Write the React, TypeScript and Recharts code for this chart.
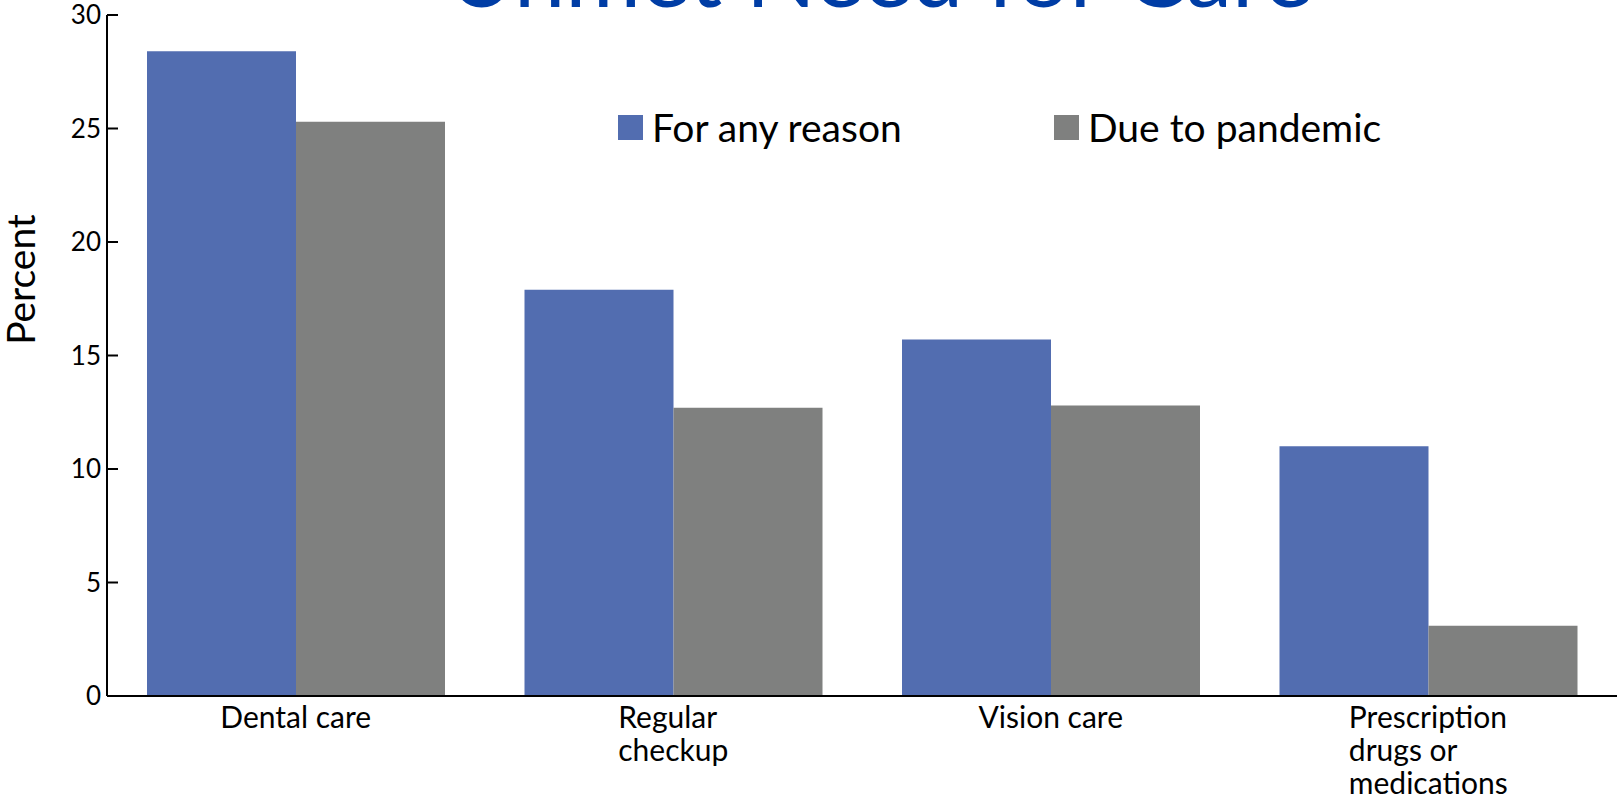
import { BarChart, Bar, XAxis, YAxis } from 'recharts';

const categories = ['Dental care', 'Regular checkup', 'Vision care', 'Prescription drugs or medications'];
const categoryLines = [['Dental care'], ['Regular', 'checkup'], ['Vision care'], ['Prescription', 'drugs or', 'medications']];
const anyReason = [28.4, 17.9, 15.7, 11.0];
const dueToPandemic = [25.3, 12.7, 12.8, 3.1];
const yTicks = [0, 5, 10, 15, 20, 25, 30];
const seriesNames = ['For any reason', 'Due to pandemic'];

const BLUE = '#526DB0';
const GRAY = '#7F807F';
const FONT = 'Lato, "Open Sans", sans-serif';

const chartData = categories.map((name, i) => ({
  name,
  anyReason: anyReason[i],
  pandemic: dueToPandemic[i],
}));

// y ticks point into the plot
const YTick = (props: any) => {
  const { x, y, payload } = props;
  const axisX = x + 6;
  return (
    <g>
      <line x1={axisX} x2={axisX + 11} y1={y} y2={y} stroke="#000" strokeWidth={2} />
      <text x={x} y={y} dy={9} textAnchor="end" fontSize={26} fontFamily={FONT} fill="#000">
        {payload.value}
      </text>
    </g>
  );
};

// multi-line category label, lines left aligned, block centred
const XTick = (props: any) => {
  const { x, y, index } = props;
  const lines = categoryLines[index] || [];
  return (
    <foreignObject x={x - 160} y={y + 4} width={320} height={110}>
      <div style={{ display: 'flex', justifyContent: 'center' }}>
        <div style={{ textAlign: 'left', fontFamily: FONT, fontSize: 30, lineHeight: '33px', color: '#000' }}>
          {lines.map((l: string) => (
            <div key={l}>{l}</div>
          ))}
        </div>
      </div>
    </foreignObject>
  );
};

export default function App() {
  return (
    <div style={{ position: 'absolute', left: 0, top: 0, width: 1619, height: 796, overflow: 'hidden', background: '#fff' }}>
      <div
        style={{
          position: 'absolute',
          left: 0,
          width: 1760,
          top: -74,
          textAlign: 'center',
          fontFamily: FONT,
          fontSize: 92,
          lineHeight: 1,
          color: '#003DA5',
          zIndex: 2,
        }}
      >
        Unmet Need for Care
      </div>
      <div style={{ position: 'absolute', left: 618, top: 107, display: 'flex', fontFamily: FONT, fontSize: 39, lineHeight: '40px', zIndex: 2 }}>
        {seriesNames.map((label, i) => (
          <div key={label} style={{ width: 436, display: 'flex', alignItems: 'center' }}>
            <div style={{ width: 25, height: 25, background: i === 0 ? BLUE : GRAY, marginRight: 9 }} />
            <span style={{ color: '#000' }}>{label}</span>
          </div>
        ))}
      </div>
      <BarChart
        width={1619}
        height={796}
        data={chartData}
        margin={{ top: 15, right: 2, bottom: 0, left: 0 }}
        barGap={0}
        barCategoryGap={40}
      >
        <XAxis
          dataKey="name"
          height={100}
          tickLine={false}
          tickSize={0}
          tickMargin={0}
          axisLine={{ stroke: '#000', strokeWidth: 2 }}
          tick={<XTick />}
          interval={0}
        />
        <YAxis
          width={107}
          domain={[0, 30]}
          ticks={yTicks}
          tickLine={false}
          tickSize={0}
          tickMargin={6}
          axisLine={{ stroke: '#000', strokeWidth: 2 }}
          tick={<YTick />}
          label={{
            content: (p: any) => {
              const vb = p.viewBox;
              const cy = vb.y + vb.height / 2 - 76;
              return (
                <text
                  x={20}
                  y={cy}
                  transform={`rotate(-90, 20, ${cy})`}
                  textAnchor="middle"
                  dominantBaseline="central"
                  fontSize={39}
                  fontFamily={FONT}
                  fill="#000"
                >
                  Percent
                </text>
              );
            },
          }}
        />
        <Bar dataKey="anyReason" name={seriesNames[0]} fill={BLUE} isAnimationActive={false} />
        <Bar dataKey="pandemic" name={seriesNames[1]} fill={GRAY} isAnimationActive={false} />
      </BarChart>
    </div>
  );
}
